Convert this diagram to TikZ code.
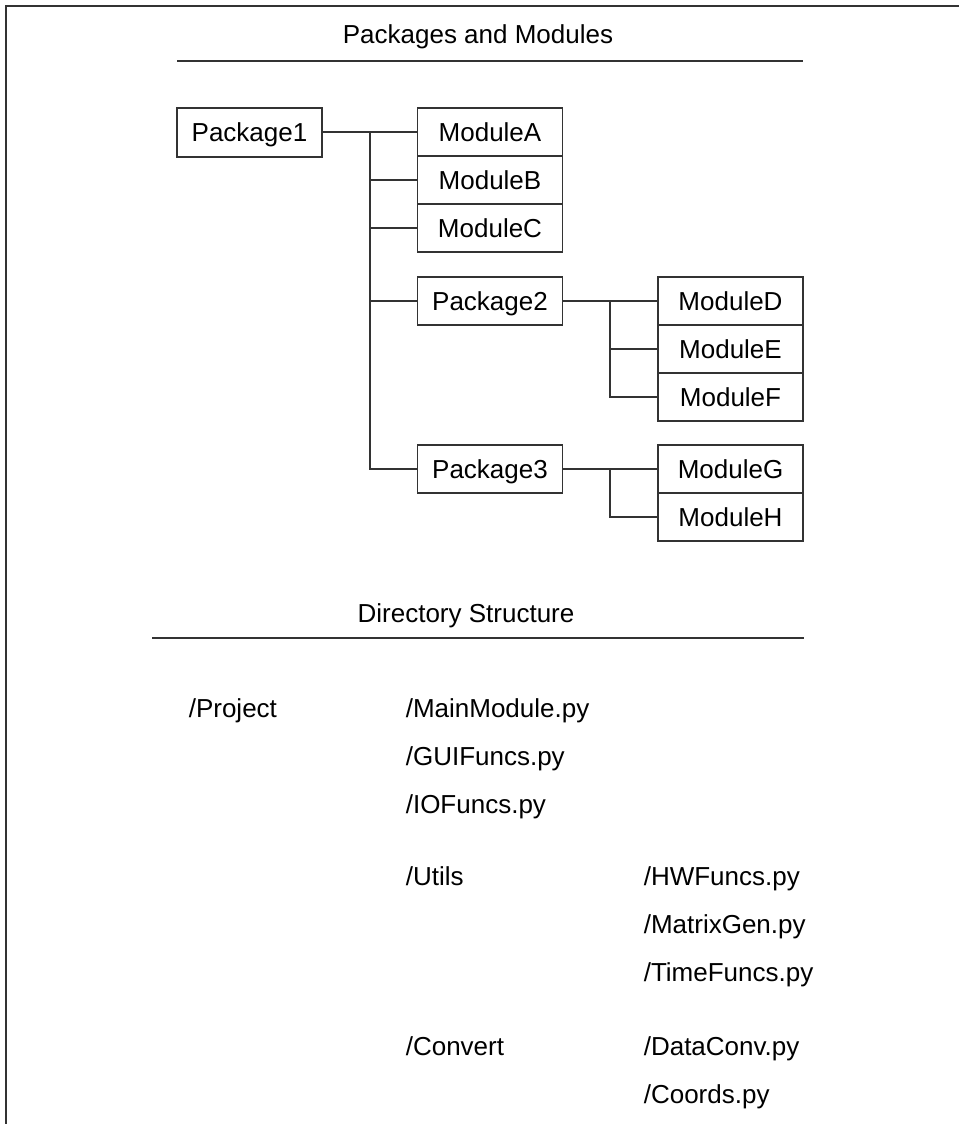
\documentclass[tikz,border=0pt]{standalone}
\usepackage{fontspec}
\setmainfont{Liberation Sans}
\usetikzlibrary{positioning}

\tikzset{
  box/.style={draw, outer sep=0pt, inner sep=0pt, minimum width=145pt, minimum height=48pt,
    text height=18.6pt, text depth=0pt},
  entry/.style={anchor=base west, inner sep=0pt},
  heading/.style={anchor=base, inner sep=0pt},
}

\begin{document}
\begin{tikzpicture}[x=1pt, y=-1pt, line width=1.6pt, draw=black!80,
    font=\fontsize{26}{30}\selectfont]
    \useasboundingbox (0,0) rectangle (959,1124);
    \draw (6,1124) -- (6,6) -- (959,6);

    % packages and modules
    \node[heading] (t1) at (478,44) {Packages and Modules};
    \draw (177,61) -- (803,61);
    \node[box, minimum height=49pt] (pkg1) at (249.5,132.5) {Package1};
    \node[box] (modA) at (490,132) {ModuleA};
    \node[box, below=0pt of modA] (modB) {ModuleB};
    \node[box, below=0pt of modB] (modC) {ModuleC};
    \node[box] (pkg2) at (490,301) {Package2};
    \node[box] (modD) at (730.5,301) {ModuleD};
    \node[box, below=0pt of modD] (modE) {ModuleE};
    \node[box, below=0pt of modE] (modF) {ModuleF};
    \node[box] (pkg3) at (490,469) {Package3};
    \node[box] (modG) at (730.5,469) {ModuleG};
    \node[box, below=0pt of modG] (modH) {ModuleH};

    \coordinate (j1) at (370,132);
    \coordinate (j2) at (610,301);
    \coordinate (j3) at (610,469);
    \draw (pkg1.east |- j1) -- (modA.west);
    \draw (j1) |- (pkg3.west);
    \foreach \n in {modB,modC,pkg2} \draw (j1 |- \n.west) -- (\n.west);
    \draw (pkg2) -- (modD);
    \draw (j2) |- (modF.west);
    \draw (j2 |- modE.west) -- (modE.west);
    \draw (pkg3) -- (modG);
    \draw (j3) |- (modH.west);

    % directory structure
    \node[heading] (t2) at (466,622) {Directory Structure};
    \draw (152,638) -- (804,638);
    \node[entry] (proj) at (188,717) {/Project};
    \node[entry] (main) at (405,717) {/MainModule.py};
    \node[entry] (gui) at (405,765) {/GUIFuncs.py};
    \node[entry] (io) at (405,813) {/IOFuncs.py};
    \node[entry] (utils) at (405,885) {/Utils};
    \node[entry] (hw) at (643,885) {/HWFuncs.py};
    \node[entry] (matrix) at (643,933) {/MatrixGen.py};
    \node[entry] (time) at (643,981) {/TimeFuncs.py};
    \node[entry] (conv) at (405,1055) {/Convert};
    \node[entry] (data) at (643,1055) {/DataConv.py};
    \node[entry] (coords) at (643,1103) {/Coords.py};
\end{tikzpicture}
\end{document}
